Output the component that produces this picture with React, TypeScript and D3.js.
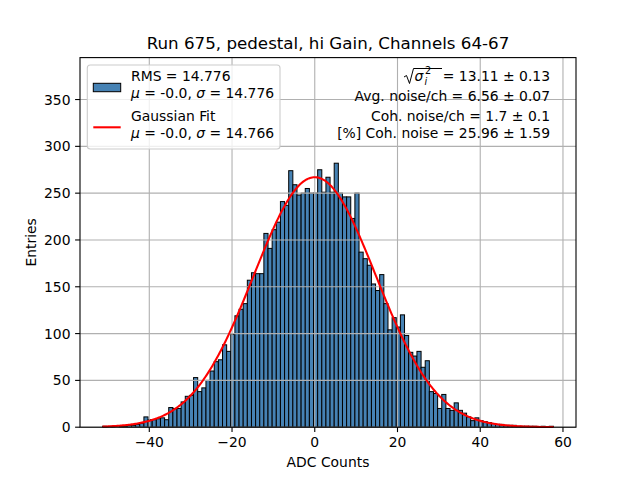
import React from "react";
import * as d3 from "d3";

const binStart = -51.3;
const binWidth = 1.0;
const counts = [
  1, 0, 1, 0, 1, 1, 2, 2, 3, 4,
  11, 8, 8, 9, 10, 8, 21, 20, 20, 27,
  33, 34, 53, 38, 42, 50, 60, 70, 72, 88,
  81, 99, 119, 126, 132, 157, 165, 164, 164, 207,
  191, 211, 219, 241, 237, 274, 259, 248, 250, 255,
  250, 250, 275, 251, 267, 251, 282, 250, 246, 246,
  223, 250, 187, 180, 173, 153, 146, 163, 132, 104,
  117, 107, 120, 98, 80, 76, 81, 64, 71, 38,
  36, 20, 35, 20, 18, 26, 18, 15, 11, 7,
  10, 7, 6, 5, 4, 3, 3, 2, 2, 2,
  1, 1, 1, 1, 1, 0, 1, 0, 1,
];
const fitMean = -0.0;
const fitSigma = 14.766;
const fitAmp = 267;
const xTicks = [-40, -20, 0, 20, 40, 60];
const yTicks = [0, 50, 100, 150, 200, 250, 300, 350];
const titleText = "Run 675, pedestal, hi Gain, Channels 64-67";
const legendLabels = [
  ["RMS = 14.776", "μ = -0.0, σ = 14.776"],
  ["Gaussian Fit", "μ = -0.0, σ = 14.766"],
];
const statLines = [
  " = 13.11 ± 0.13",
  "Avg. noise/ch = 6.56 ± 0.07",
  "Coh. noise/ch = 1.7 ± 0.1",
  "[%] Coh. noise = 25.96 ± 1.59",
];

const L = 80, R = 576, T = 57.6, B = 427.2;
const FONT = "DejaVu Sans, sans-serif";

export default function App() {
  const n = counts.length;
  const dataMin = binStart;
  const dataMax = binStart + n * binWidth;
  const span = dataMax - dataMin;
  const x = d3.scaleLinear().domain([dataMin - 0.05 * span, dataMax + 0.05 * span]).range([L, R]);
  const maxC = d3.max(counts) as number;
  const y = d3.scaleLinear().domain([0, 1.4 * maxC]).range([B, T]);

  const curvePts: [number, number][] = d3.range(0, 401).map((k) => {
    const xv = dataMin + (span * k) / 400;
    const yv = fitAmp * Math.exp(-((xv - fitMean) ** 2) / (2 * fitSigma * fitSigma));
    return [xv, yv];
  });
  const line = d3.line<[number, number]>().x((d) => x(d[0])).y((d) => y(d[1]));

  return (
    <svg width={640} height={480} style={{ position: "absolute", left: 0, top: 0, background: "#fff" }} fontFamily={FONT}>
      <rect x={0} y={0} width={640} height={480} fill="#fff" />
      <g>
        {counts.map((c, i) => {
          const x0 = x(binStart + i * binWidth);
          const x1 = x(binStart + (i + 1) * binWidth);
          return (
            <rect key={i} x={x0} y={y(c)} width={x1 - x0} height={B - y(c)} fill="#4682b4" stroke="#000" strokeWidth={1} />
          );
        })}
      </g>
      <g stroke="#b0b0b0" strokeWidth={1.1}>
        {xTicks.map((t) => (
          <line key={"gx" + t} x1={x(t)} x2={x(t)} y1={T} y2={B} />
        ))}
        {yTicks.map((t) => (
          <line key={"gy" + t} x1={L} x2={R} y1={y(t)} y2={y(t)} />
        ))}
      </g>
      <path d={line(curvePts) || ""} fill="none" stroke="#ff0000" strokeWidth={2.08} />
      <rect x={L} y={T} width={R - L} height={B - T} fill="none" stroke="#000" strokeWidth={1.1} />
      <g fontSize={13.9} fill="#000">
        {xTicks.map((t) => (
          <g key={"tx" + t}>
            <line x1={x(t)} x2={x(t)} y1={B} y2={B + 4.9} stroke="#000" strokeWidth={1.1} />
            <text x={x(t)} y={B + 20} textAnchor="middle">{t < 0 ? "−" + Math.abs(t) : String(t)}</text>
          </g>
        ))}
        {yTicks.map((t) => (
          <g key={"ty" + t}>
            <line x1={L - 4.9} x2={L} y1={y(t)} y2={y(t)} stroke="#000" strokeWidth={1.1} />
            <text x={L - 9.5} y={y(t) + 5} textAnchor="end">{t}</text>
          </g>
        ))}
        <text x={(L + R) / 2} y={467} textAnchor="middle">ADC Counts</text>
        <text transform={`translate(36,${(T + B) / 2}) rotate(-90)`} textAnchor="middle">Entries</text>
      </g>
      <text x={(L + R) / 2} y={49} textAnchor="middle" fontSize={16.7}>{titleText}</text>
      <g>
        <rect x={87.3} y={65} width={192.7} height={84} rx={3} fill="#fff" fillOpacity={0.8} stroke="#cccccc" strokeWidth={1.1} />
        <rect x={93.3} y={83.3} width={27.4} height={8.4} fill="#4682b4" stroke="#000" strokeWidth={1} />
        <line x1={93.3} x2={120.7} y1={127.3} y2={127.3} stroke="#ff0000" strokeWidth={2.08} />
        <g fontSize={13.9}>
          <text x={131} y={81}>{legendLabels[0][0]}</text>
          <text x={131} y={98.3}>
            <tspan fontStyle="italic">μ</tspan>
            <tspan>{" = -0.0, "}</tspan>
            <tspan fontStyle="italic">σ</tspan>
            <tspan>{" = 14.776"}</tspan>
          </text>
          <text x={131} y={120.7}>{legendLabels[1][0]}</text>
          <text x={131} y={138.3}>
            <tspan fontStyle="italic">μ</tspan>
            <tspan>{" = -0.0, "}</tspan>
            <tspan fontStyle="italic">σ</tspan>
            <tspan>{" = 14.766"}</tspan>
          </text>
        </g>
      </g>
      <g fontSize={13.9}>
        <path d="M 404 77 L 406.5 75.5 L 409.5 83.5 L 413.5 68.5 L 442 68.5" fill="none" stroke="#000" strokeWidth={1} />
        <text x={414.5} y={81} fontStyle="italic">σ</text>
        <text x={424.5} y={84.5} fontStyle="italic" fontSize={9.7}>i</text>
        <text x={425} y={73.5} fontSize={9.7}>2</text>
        <text x={550} y={81} textAnchor="end">{statLines[0]}</text>
        <text x={550} y={101} textAnchor="end">{statLines[1]}</text>
        <text x={550} y={121} textAnchor="end">{statLines[2]}</text>
        <text x={550} y={137.7} textAnchor="end">{statLines[3]}</text>
      </g>
    </svg>
  );
}
